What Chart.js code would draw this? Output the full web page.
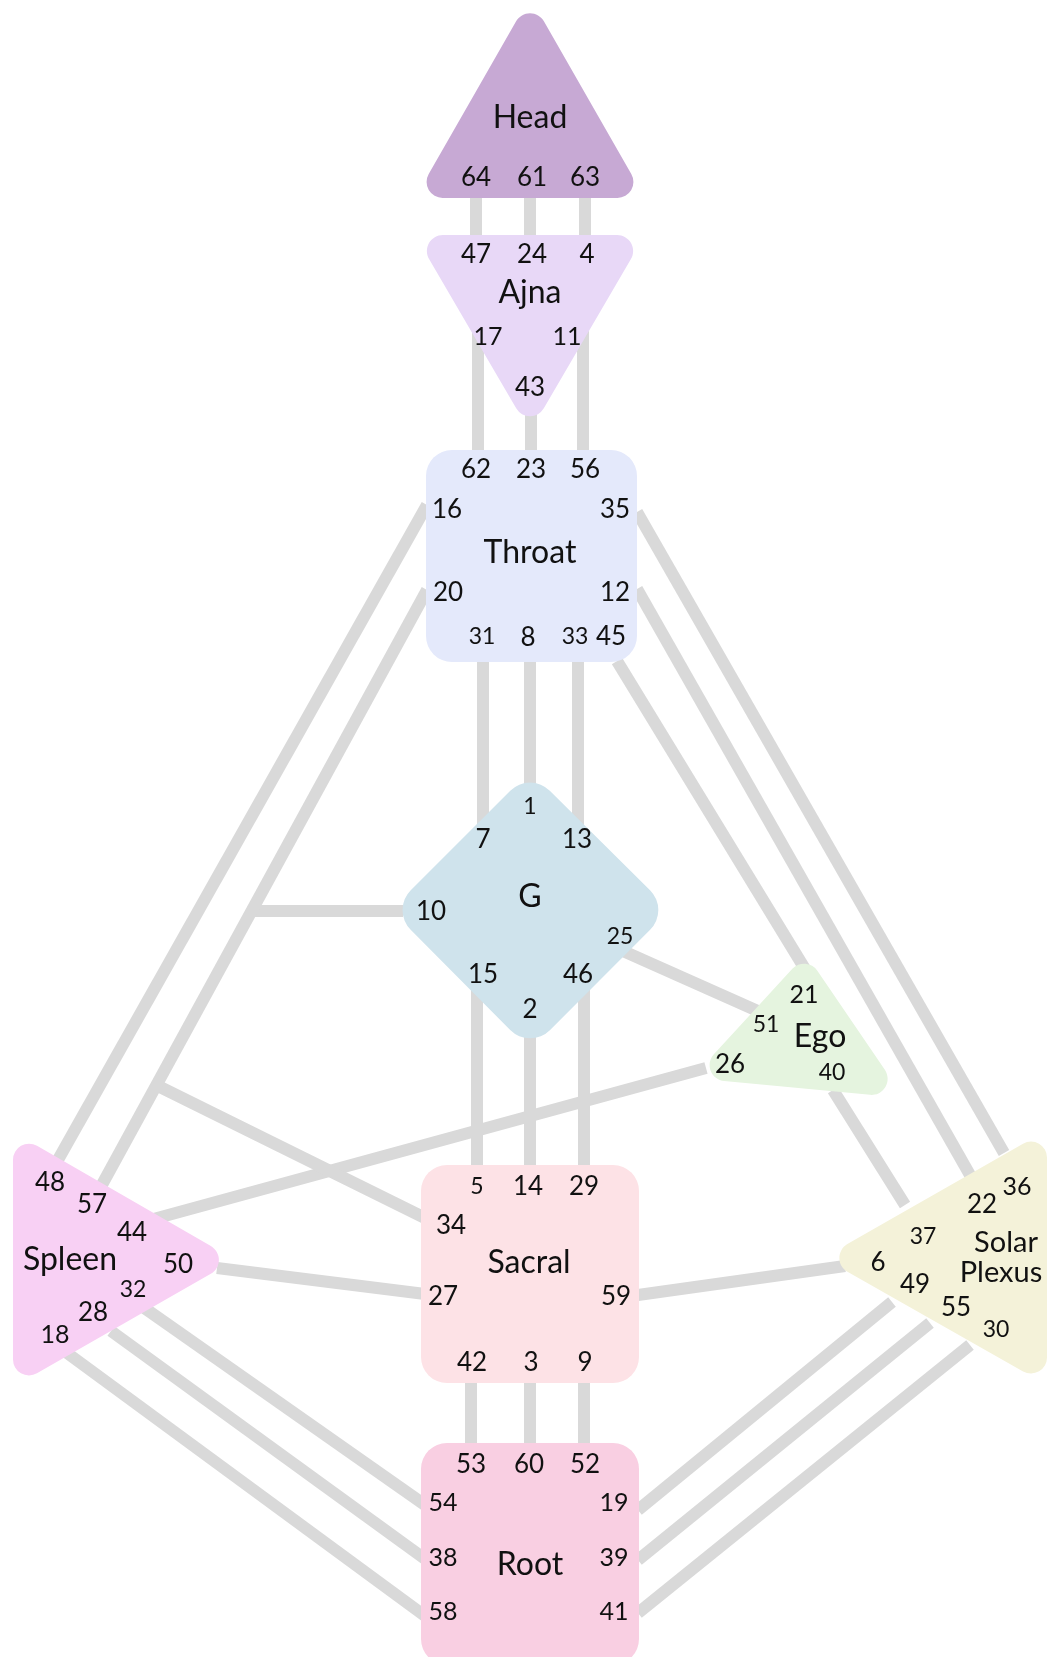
<!DOCTYPE html>
<html>
<head>
<meta charset="utf-8">
<title>Bodygraph</title>
<script src="https://cdn.jsdelivr.net/npm/chart.js@4.4.1/dist/chart.umd.min.js"></script>
<style>
  html, body { margin: 0; padding: 0; background: #ffffff; }
  #box { width: 1049px; height: 1657px; position: relative; }
</style>
</head>
<body>
<div id="box"><canvas id="grafico"></canvas></div>
<script>
// centros (nome, rótulo e vértices do polígono, no espaço do gráfico)
let centros = ['Head', 'Ajna', 'Throat', 'G', 'Ego', 'Spleen', 'Solar Plexus', 'Sacral', 'Root'];
let rotuloX = [530, 530, 530, 530, 820, 70, 1003, 529, 530];
let rotuloY = [118, 293, 553, 897, 1037, 1260, 1258, 1263, 1565];
let vertices = [
    [[530, -3], [645, 198], [415, 198]],
    [[415, 235], [645, 235], [530, 432]],
    [[426, 450], [637, 450], [637, 662], [426, 662]],
    [[530, 771], [670, 910], [530, 1050], [391, 910]],
    [[806, 954], [904, 1098], [692, 1078]],
    [[13, 1132], [235, 1260], [13, 1387]],
    [[1047, 1130], [823, 1258], [1047, 1385]],
    [[421, 1165], [639, 1165], [639, 1383], [421, 1383]],
    [[421, 1443], [639, 1443], [639, 1665], [421, 1665]]
];

// portas
let portas = [64, 61, 63, 47, 24, 4, 17, 11, 43,
    62, 23, 56, 16, 35, 20, 12, 31, 8, 33, 45,
    1, 7, 13, 10, 25, 15, 46, 2,
    21, 51, 26, 40,
    48, 57, 44, 50, 32, 28, 18,
    36, 22, 37, 6, 49, 55, 30,
    5, 14, 29, 34, 27, 59, 42, 3, 9,
    53, 60, 52, 54, 19, 38, 39, 58, 41];
let portaX = [476, 532, 585, 476, 532, 587, 488, 567, 530,
    476, 531, 585, 447, 615, 448, 615, 482, 528, 575, 611,
    530, 483, 577, 431, 620, 483, 578, 530,
    804, 766, 730, 832,
    50, 92, 132, 178, 133, 93, 55,
    1017, 982, 923, 878, 915, 956, 996,
    477, 528, 584, 451, 443, 616, 472, 531, 585,
    471, 529, 585, 443, 614, 443, 614, 443, 614];
let portaY = [178, 178, 178, 255, 255, 255, 337, 337, 388,
    470, 470, 470, 510, 510, 593, 593, 637, 638, 637, 637,
    807, 840, 840, 912, 937, 975, 975, 1010,
    995, 1025, 1065, 1073,
    1183, 1205, 1233, 1265, 1290, 1313, 1335,
    1187, 1205, 1237, 1263, 1285, 1308, 1330,
    1187, 1187, 1187, 1226, 1297, 1297, 1363, 1363, 1363,
    1465, 1465, 1465, 1503, 1503, 1558, 1558, 1612, 1612];

// canais: ponto inicial e final
let canais = ['64-47', '61-24', '63-4', '17-62', '43-23', '11-56',
    '31-7', '8-1', '33-13', '15-5', '2-14', '46-29', '42-53', '3-60', '9-52',
    '16-48', '20-57', '10-20', '34-57', '35-36', '12-22', '45-21', '25-51',
    '26-44', '40-37', '50-27', '59-6', '32-54', '28-38', '18-58',
    '19-49', '39-55', '41-30'];
let canalInicio = [[476, 190], [530, 190], [585, 190], [478, 330], [531, 400], [583, 330],
    [483, 655], [530, 655], [578, 655], [477, 960], [530, 1000], [584, 960], [471, 1378], [530, 1378], [584, 1378],
    [427, 505], [427, 590], [403, 911], [160, 1087], [637, 512], [637, 589], [617, 661], [623, 951],
    [706, 1068], [833, 1090], [217, 1268], [638, 1295], [143, 1307], [111, 1331], [63, 1350],
    [638, 1510], [638, 1560], [638, 1613]];
let canalFim = [[476, 240], [530, 240], [585, 240], [478, 455], [531, 455], [583, 455],
    [483, 835], [530, 790], [578, 835], [477, 1170], [530, 1170], [584, 1170], [471, 1447], [530, 1447], [584, 1447],
    [50, 1174], [98, 1192], [255, 911], [425, 1218], [1004, 1153], [970, 1175], [805, 969], [760, 1012],
    [150, 1220], [905, 1205], [425, 1294], [845, 1266], [425, 1505], [425, 1559], [425, 1616],
    [892, 1302], [930, 1323], [970, 1345]];

let coresCentros = ['#c7a9d4', '#e8d8f7', '#e4e9fb', '#cfe3ec', '#e5f4df', '#f8d0f4', '#f4f2d9', '#fde2e6', '#f9cfe2'];
let portasPequenas = [31, 33, 1, 5, 25, 37, 30, 40, 32, 51];
let portasMedias = [54, 19, 38, 39, 58, 41, 21, 36, 18, 17, 11];
let fonte = 'Lato, "Noto Sans", sans-serif';

// desenha um polígono com cantos arredondados
function poligonoArredondado(ctx, pts, r) {
    let n = pts.length;
    let ini = [(pts[n - 1][0] + pts[0][0]) / 2, (pts[n - 1][1] + pts[0][1]) / 2];
    ctx.beginPath();
    ctx.moveTo(ini[0], ini[1]);
    for (let i = 0; i < n; i++) {
        let p = pts[i];
        let q = pts[(i + 1) % n];
        ctx.arcTo(p[0], p[1], q[0], q[1], r);
    }
    ctx.closePath();
}

let pluginCentros = {
    id: 'centros',
    afterDatasetsDraw(chart) {
        let ctx = chart.ctx;
        let sx = chart.scales.x;
        let sy = chart.scales.y;
        ctx.save();
        centros.forEach(function(nome, i) {
            let pts = vertices[i].map(function(v) {
                return [sx.getPixelForValue(v[0]), sy.getPixelForValue(v[1])];
            });
            let r = pts.length === 4 ? (nome === 'G' ? 28 : 26) : 16;
            poligonoArredondado(ctx, pts, r);
            ctx.fillStyle = coresCentros[i];
            ctx.fill();
        });

        ctx.fillStyle = '#111111';
        ctx.textAlign = 'center';
        ctx.textBaseline = 'middle';
        ctx.font = '32px ' + fonte;
        centros.forEach(function(nome, i) {
            let x = sx.getPixelForValue(rotuloX[i]);
            let y = sy.getPixelForValue(rotuloY[i]);
            if (nome === 'Solar Plexus') {
                ctx.font = '29px ' + fonte;
                ctx.fillText('Solar', x + 3, y - 15);
                ctx.fillText('Plexus', x - 2, y + 15);
                ctx.font = '32px ' + fonte;
            } else {
                ctx.fillText(nome, x, y);
            }
        });

        portas.forEach(function(p, i) {
            let tam = 26;
            if (portasPequenas.includes(p)) tam = 23;
            else if (portasMedias.includes(p)) tam = 25;
            ctx.font = tam + 'px ' + fonte;
            ctx.fillText(String(p), sx.getPixelForValue(portaX[i]), sy.getPixelForValue(portaY[i]));
        });
        ctx.restore();
    }
};

function criarGrafico() {
    let ctx = document.getElementById('grafico').getContext('2d');
    let datasets = canais.map(function(nome, i) {
        return {
            label: nome,
            data: [
                { x: canalInicio[i][0], y: canalInicio[i][1] },
                { x: canalFim[i][0], y: canalFim[i][1] }
            ],
            showLine: true,
            borderColor: '#d9d9d9',
            borderWidth: 12,
            borderCapStyle: 'butt',
            pointRadius: 0,
            fill: false
        };
    });
    new Chart(ctx, {
        type: 'scatter',
        data: { datasets: datasets },
        options: {
            responsive: true,
            maintainAspectRatio: false,
            animation: false,
            layout: { padding: 0 },
            plugins: {
                legend: { display: false },
                tooltip: { enabled: false }
            },
            scales: {
                x: { type: 'linear', min: 0, max: 1049, display: false },
                y: { type: 'linear', min: 0, max: 1657, reverse: true, display: false }
            }
        },
        plugins: [pluginCentros]
    });
}

document.addEventListener('DOMContentLoaded', criarGrafico);
</script>
</body>
</html>
